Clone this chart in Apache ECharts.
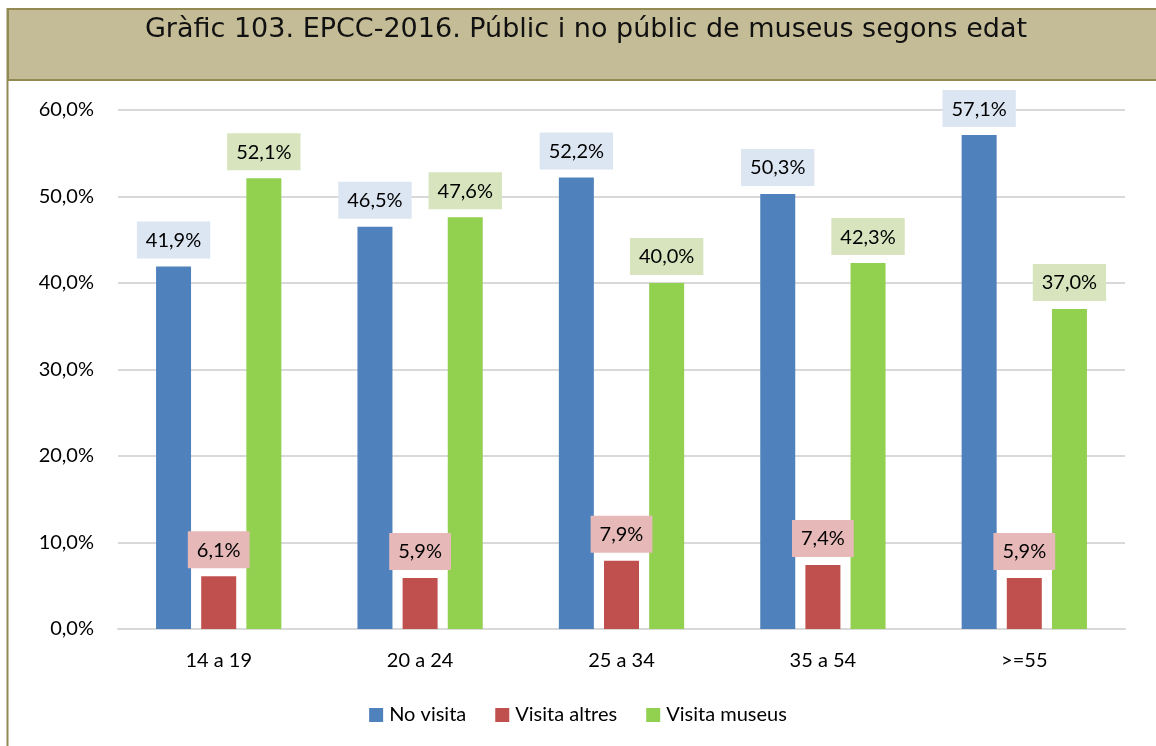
<!DOCTYPE html>
<html>
<head>
<meta charset="utf-8">
<script src="https://cdn.jsdelivr.net/npm/echarts@6/dist/echarts.min.js"></script>
<style>
html,body{margin:0;padding:0;background:#fff;}
#chart{width:1156px;height:746px;}
</style>
</head>
<body>
<div id="chart"></div>
<script>
const titleText = 'Gràfic 103. EPCC-2016. Públic i no públic de museus segons edat';
const categories = ['14 a 19', '20 a 24', '25 a 34', '35 a 54', '>=55'];
const seriesNames = ['No visita', 'Visita altres', 'Visita museus'];
const noVisita = [41.9, 46.5, 52.2, 50.3, 57.1];
const visitaAltres = [6.1, 5.9, 7.9, 7.4, 5.9];
const visitaMuseus = [52.1, 47.6, 40.0, 42.3, 37.0];
const yTicks = [0, 10, 20, 30, 40, 50, 60];

const colors = ['#4F81BD', '#C0504D', '#92D050'];
const labelBg = ['#DCE6F2', '#E6B9B8', '#D7E4BD'];
const fontFam = 'Lato, "Noto Sans", sans-serif';
const fmt = v => v.toFixed(1).replace('.', ',') + '%';

const chart = echarts.init(document.getElementById('chart'), null, {renderer: 'canvas'});
const mk = (name, data, i) => ({
  name: name,
  type: 'bar',
  data: data,
  barWidth: 35,
  barGap: '29%',
  itemStyle: {color: colors[i]},
  label: {
    show: true,
    position: 'top',
    distance: 8,
    formatter: p => fmt(p.value),
    fontFamily: fontFam,
    fontSize: 20,
    color: '#000',
    backgroundColor: labelBg[i],
    padding: [8, 9, 7, 9],
    lineHeight: 22
  }
});

chart.setOption({
  animation: false,
  backgroundColor: '#fff',
  graphic: [
    {type: 'rect', shape: {x: 8, y: 9, width: 1160, height: 71}, style: {fill: '#C4BC96', stroke: '#938953', lineWidth: 2}, z: 0},
    {type: 'line', shape: {x1: 7.5, y1: 8, x2: 7.5, y2: 746}, style: {stroke: '#938953', lineWidth: 2}, z: 1},
    {type: 'text', x: 586, y: 30, style: {text: titleText, font: '27px "DejaVu Sans", sans-serif', fill: '#111', align: 'center', verticalAlign: 'middle'}, z: 2}
  ],
  grid: {left: 118, right: 31, top: 110, bottom: 117, containLabel: false},
  legend: {
    data: seriesNames,
    bottom: 16,
    left: 'center',
    itemWidth: 14,
    itemHeight: 14,
    itemGap: 29,
    icon: 'rect',
    textStyle: {fontFamily: fontFam, fontSize: 20, color: '#000', padding: [0, 0, 0, 1]}
  },
  xAxis: {
    type: 'category',
    data: categories,
    axisLine: {lineStyle: {color: '#D9D9D9', width: 2}},
    axisTick: {show: false},
    axisLabel: {fontFamily: fontFam, fontSize: 20, color: '#000', margin: 22}
  },
  yAxis: {
    type: 'value',
    min: yTicks[0],
    max: yTicks[yTicks.length - 1],
    interval: 10,
    axisLine: {show: false},
    axisTick: {show: false},
    splitLine: {lineStyle: {color: '#D9D9D9', width: 2}},
    axisLabel: {fontFamily: fontFam, fontSize: 20, color: '#000', margin: 24, formatter: v => fmt(v)}
  },
  series: [
    mk(seriesNames[0], noVisita, 0),
    mk(seriesNames[1], visitaAltres, 1),
    mk(seriesNames[2], visitaMuseus, 2)
  ]
});
</script>
</body>
</html>
